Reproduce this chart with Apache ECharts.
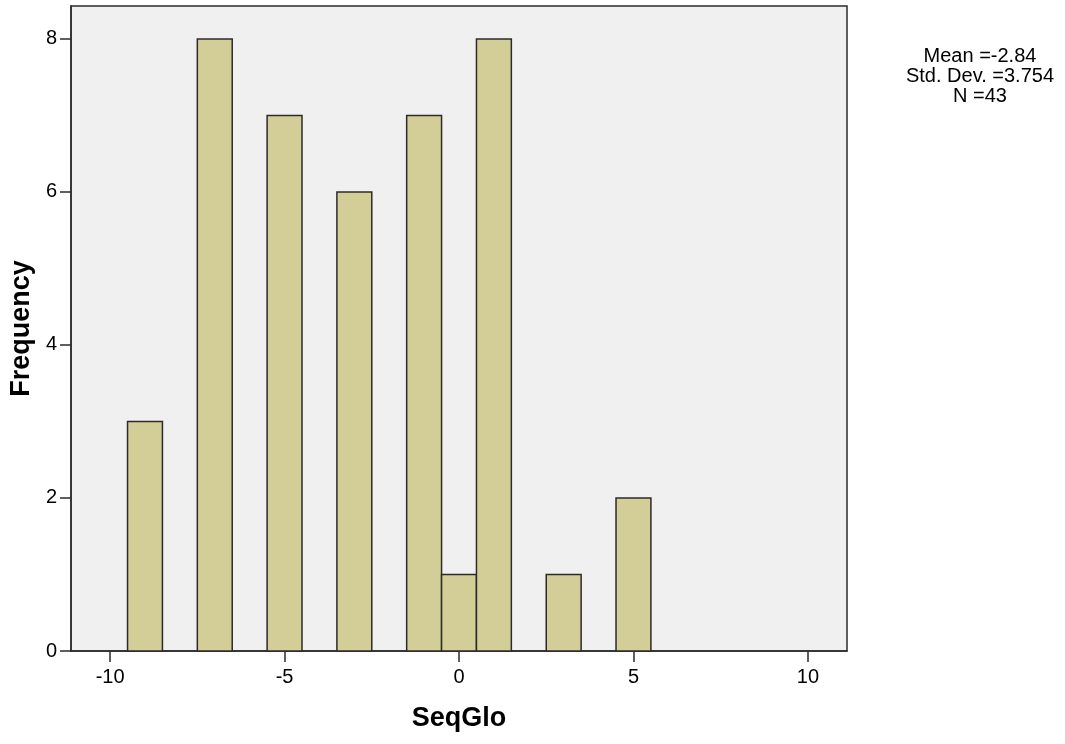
<!DOCTYPE html>
<html><head><meta charset="utf-8">
<script src="https://cdn.jsdelivr.net/npm/echarts@6/dist/echarts.min.js"></script>
<style>html,body{margin:0;padding:0;background:#fff}#c{width:1065px;height:744px}</style>
</head><body><div id="c"></div>
<script>
// Data
const binCenters = [-9, -7, -5, -3, -1, 0, 1, 3, 5];
const counts = [3, 8, 7, 6, 7, 1, 8, 1, 2];
const binWidth = 1;
const xTicks = [-10, -5, 0, 5, 10];
const yTicks = [0, 2, 4, 6, 8];
const statsLines = ['Mean =-2.84', 'Std. Dev. =3.754', 'N =43'];
const xTitle = 'SeqGlo';
const yTitle = 'Frequency';

const chart = echarts.init(document.getElementById('c'), null, {renderer: 'canvas'});
const FONT = 'Liberation Sans';
const data = binCenters.map((c, i) => [c - binWidth / 2, c + binWidth / 2, counts[i]]);

chart.setOption({
  animation: false,
  backgroundColor: '#ffffff',
  grid: {left: 71, right: 218, top: 6, bottom: 93, show: true, backgroundColor: '#F0F0F0', borderColor: '#2b2b2b', borderWidth: 1.5},
  xAxis: {
    type: 'value', min: -11.12, max: 11.12,
    name: xTitle, nameLocation: 'middle', nameGap: 54,
    nameTextStyle: {fontFamily: FONT, fontWeight: 'bold', fontSize: 27, color: '#000'},
    axisLine: {show: true, onZero: false, lineStyle: {color: '#2b2b2b', width: 1.5}},
    axisTick: {show: true, length: 11, customValues: xTicks, lineStyle: {color: '#2b2b2b', width: 1.5}},
    axisLabel: {customValues: xTicks, fontFamily: FONT, fontSize: 20, color: '#000', margin: 16},
    splitLine: {show: false}
  },
  yAxis: {
    type: 'value', min: 0, max: 8.43,
    name: yTitle, nameLocation: 'middle', nameGap: 27, nameRotate: 90,
    nameTextStyle: {fontFamily: FONT, fontWeight: 'bold', fontSize: 27, color: '#000'},
    axisLine: {show: true, onZero: false, lineStyle: {color: '#2b2b2b', width: 1.5}},
    axisTick: {show: true, length: 11, customValues: yTicks, lineStyle: {color: '#2b2b2b', width: 1.5}},
    axisLabel: {customValues: yTicks, fontFamily: FONT, fontSize: 20, color: '#000', margin: 14},
    splitLine: {show: false}
  },
  graphic: statsLines.map((t, i) => ({
    type: 'text', x: 980, y: 56 + i * 20,
    style: {text: t, fill: '#000', font: '20px ' + FONT, textAlign: 'center', textVerticalAlign: 'middle'}
  })),
  series: [{
    type: 'custom',
    data: data,
    encode: {x: [0, 1], y: 2},
    renderItem: function (params, api) {
      const p0 = api.coord([api.value(0), 0]);
      const p1 = api.coord([api.value(1), api.value(2)]);
      return {
        type: 'rect',
        shape: {x: p0[0], y: p1[1], width: p1[0] - p0[0], height: p0[1] - p1[1]},
        style: {fill: '#D3CE97', stroke: '#2b2b2b', lineWidth: 1.5}
      };
    }
  }]
});
</script></body></html>
